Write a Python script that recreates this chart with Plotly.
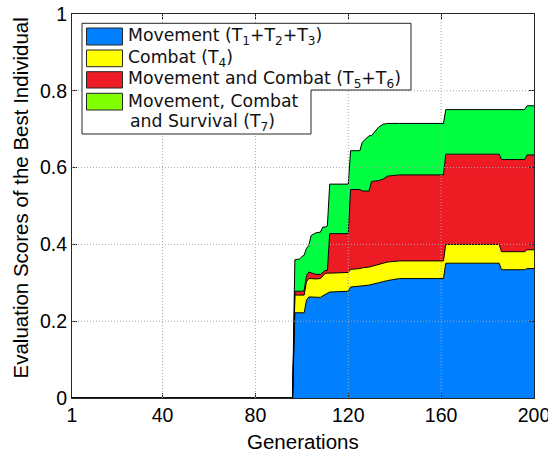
import plotly.graph_objects as go

# Generation keyframes and cumulative (stacked) tops
generations = [1, 96, 97, 99, 100, 101, 102, 103, 104, 106, 108, 109, 110, 111, 112, 116, 120,
               121, 125, 126, 129, 130, 133, 135, 137, 142, 161, 162, 185, 186, 196, 197, 200]
movement_top = [0, 0, .222, .222, .222, .222, .255, .263, .263, .262, .262, .266, .270, .272, .276, .277, .278,
                .289, .290, .292, .294, .296, .300, .303, .306, .311, .311, .351, .351, .334, .334, .337, .337]
combat_top = [0, 0, .268, .268, .268, .268, .303, .311, .311, .310, .311, .318, .324, .325, .325, .326, .327,
              .335, .337, .339, .341, .343, .348, .351, .354, .357, .357, .400, .400, .381, .381, .386, .386]
mov_combat_top = [0, 0, .278, .278, .278, .280, .318, .328, .326, .322, .322, .326, .332, .332, .428, .428, .428,
                  .543, .543, .539, .539, .564, .566, .570, .578, .581, .581, .635, .635, .621, .621, .633, .633]
survival_top = [0, 0, .360, .362, .368, .372, .390, .397, .423, .430, .432, .445, .445, .448, .557, .557, .557,
                .644, .644, .666, .683, .683, .705, .713, .715, .715, .715, .751, .751, .751, .751, .761, .761]

series_names = ["Movement (T<sub>1</sub>+T<sub>2</sub>+T<sub>3</sub>)",
                "Combat (T<sub>4</sub>)",
                "Movement and Combat (T<sub>5</sub>+T<sub>6</sub>)",
                "Movement, Combat"]
name_line2 = "and Survival (T<sub>7</sub>)"
fill_colors = ["#0080ff", "#ffff00", "#ed1c24", "#00ff40"]
legend_colors = ["#0080ff", "#ffff00", "#ed1c24", "#80ff00"]

x_ticks = [1, 40, 80, 120, 160, 200]
y_ticks = [0, 0.2, 0.4, 0.6, 0.8, 1]

fig = go.Figure()
tops = [movement_top, combat_top, mov_combat_top, survival_top]
for i, top in enumerate(tops):
    fig.add_trace(go.Scatter(
        x=generations, y=top, mode="lines",
        line=dict(color="black", width=1),
        fill="tozeroy" if i == 0 else "tonexty",
        fillcolor=fill_colors[i], showlegend=False, hoverinfo="skip"))

# plot area in pixels
L, R, T, B = 72, 534, 14, 398
W, H = 548, 453


def px(xp):
    return (xp - L) / (R - L)


def py(yp):
    return (B - yp) / (B - T)


shapes = []
# grid lines above areas
for xv in x_ticks[1:-1]:
    shapes.append(dict(type="line", xref="x", yref="paper", x0=xv, x1=xv, y0=0, y1=1,
                       line=dict(color="#a8a8a8", width=1, dash="1px,2px"), layer="above"))
for yv in y_ticks[1:-1]:
    shapes.append(dict(type="line", xref="paper", yref="y", x0=0, x1=1, y0=yv, y1=yv,
                       line=dict(color="#a8a8a8", width=1, dash="1px,2px"), layer="above"))

# L-shaped legend box
pts = [(82, 23.3), (411, 23.3), (411, 90), (311, 90), (311, 134), (82, 134)]
path = "M " + " L ".join(f"{px(a):.5f},{py(b):.5f}" for a, b in pts) + " Z"
shapes.append(dict(type="path", xref="paper", yref="paper", path=path,
                   fillcolor="white", line=dict(color="#262626", width=1), layer="above"))

rows = [(28, 45), (50, 66.7), (71.7, 88), (93.3, 110)]
text_y = [36.5, 58, 79.5, 101]
legend_font = dict(family="DejaVu Sans", size=17.3, color="#111")
annotations = []
for i, (y0, y1) in enumerate(rows):
    shapes.append(dict(type="rect", xref="paper", yref="paper",
                       x0=px(86.5), x1=px(122.5), y0=py(y1), y1=py(y0),
                       fillcolor=legend_colors[i], line=dict(color="#262626", width=1), layer="above"))
    annotations.append(dict(xref="paper", yref="paper", x=px(126), y=py(text_y[i]),
                            xanchor="left", yanchor="middle", showarrow=False,
                            text=series_names[i], font=legend_font))
annotations.append(dict(xref="paper", yref="paper", x=px(128), y=py(122),
                        xanchor="left", yanchor="middle", showarrow=False,
                        text=name_line2, font=legend_font))

title_font = dict(family="Liberation Sans", size=20.5, color="black")
# axis titles
annotations.append(dict(xref="paper", yref="paper", x=px(20), y=py(198.5),
                        xanchor="center", yanchor="middle", showarrow=False, textangle=-90,
                        text="Evaluation Scores of the Best Individual", font=title_font))
annotations.append(dict(xref="paper", yref="paper", x=0.5, y=py(441),
                        xanchor="center", yanchor="middle", showarrow=False,
                        text="Generations", font=title_font))

axis_common = dict(showline=True, linecolor="#262626", linewidth=1, mirror="ticks",
                   ticks="inside", ticklen=5, tickcolor="#262626", showgrid=False,
                   zeroline=False, layer="above traces", automargin=False,
                   ticklabeloverflow="allow",
                   tickfont=dict(family="Liberation Sans", size=19.5, color="black"))

fig.update_layout(
    width=W, height=H,
    margin=dict(l=L, r=W - R, t=T, b=H - B),
    paper_bgcolor="white", plot_bgcolor="white",
    showlegend=False,
    shapes=shapes, annotations=annotations,
    xaxis=dict(range=[1, 200], tickvals=x_ticks, ticktext=[str(v) for v in x_ticks],
               **axis_common),
    yaxis=dict(range=[0, 1], tickvals=y_ticks, ticktext=["0", "0.2", "0.4", "0.6", "0.8", "1"],
               **axis_common),
)

fig.write_html("out.html", config={"displayModeBar": False},
               post_script="document.body.style.margin='0';document.body.style.overflow='hidden';")
